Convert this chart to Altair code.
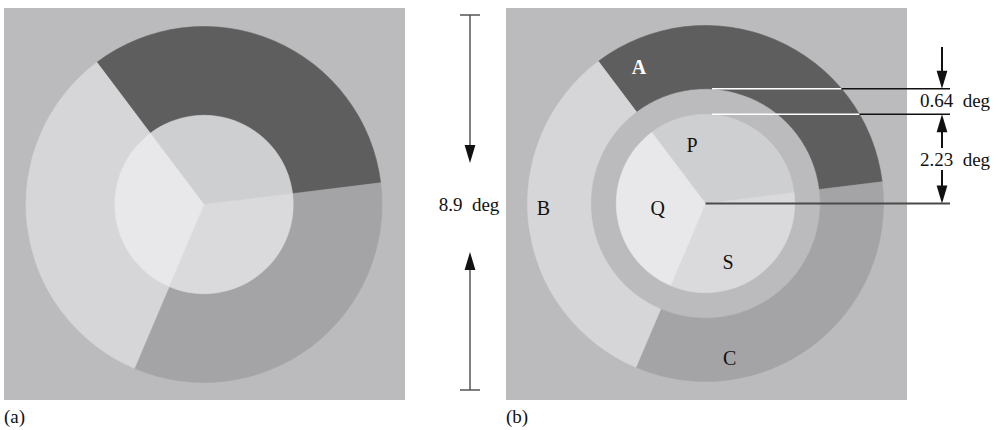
import math
import altair as alt
import pandas as pd

# --- stimulus values -------------------------------------------------------
OUTER_DIAMETER_DEG = 8.9      # full width of the annulus
GAP_WIDTH_DEG = 0.64          # width of the blank ring in (b)
INNER_RADIUS_DEG = 2.23       # radius of the central disc

RING_LABELS = ["A", "C", "B"]
DISC_LABELS = ["P", "S", "Q"]
SECTOR_START_DEG = [323, 83, 203]   # clockwise from 12 o'clock
SECTOR_END_DEG = [443, 203, 323]

DIM_TEXT = ["8.9\u2002deg", "0.64\u2002deg", "2.23\u2002deg"]
PANEL_TEXT = ["(a)", "(b)"]

# --- styling -----------------------------------------------------------------
RING_COLORS = ["#5e5e5e", "#a4a4a6", "#d6d6d8"]
DISC_COLORS = ["#cecfd1", "#dadadc", "#e8e8ea"]
BACKGROUND = "#bbbbbd"
FONT = "Liberation Serif"

W, H = 1005, 430
PX_PER_DEG = 40.0
CENTERS = {"a": (204.0, 204.5), "b": (705.5, 203.5)}
SQUARES = {"a": (4, 405, 8, 400), "b": (506, 907, 8, 400)}

XS = alt.Scale(domain=[0, W], range=[0, W], nice=False, zero=False)
YS = alt.Scale(domain=[0, H], range=[0, H], nice=False, zero=False)
RMAX = OUTER_DIAMETER_DEG / 2
RS = alt.Scale(type="linear", domain=[0, RMAX], range=[0, RMAX * PX_PER_DEG], zero=True)


def X(field):
    return alt.X(field, type="quantitative", scale=XS, axis=None)


def Y(field):
    return alt.Y(field, type="quantitative", scale=YS, axis=None)


# --- sectors -----------------------------------------------------------------
gap_outer = INNER_RADIUS_DEG + GAP_WIDTH_DEG
rows = []
for panel, ring_inner in (("a", INNER_RADIUS_DEG), ("b", gap_outer)):
    cx, cy = CENTERS[panel]
    for lab, s, e, col in zip(RING_LABELS, SECTOR_START_DEG, SECTOR_END_DEG, RING_COLORS):
        rows.append(dict(cx=cx, cy=cy, t0=math.radians(s), t1=math.radians(e),
                         r0=ring_inner, r1=RMAX, color=col, name=lab))
    for lab, s, e, col in zip(DISC_LABELS, SECTOR_START_DEG, SECTOR_END_DEG, DISC_COLORS):
        rows.append(dict(cx=cx, cy=cy, t0=math.radians(s), t1=math.radians(e),
                         r0=0.0, r1=INNER_RADIUS_DEG, color=col, name=lab))
sectors = pd.DataFrame(rows)

squares = pd.DataFrame([dict(x0=v[0], x1=v[1], y0=v[2], y1=v[3]) for v in SQUARES.values()])

bg = alt.Chart(squares).mark_rect(color=BACKGROUND).encode(
    x=X("x0"), x2="x1", y=Y("y0"), y2="y1")

arcs = alt.Chart(sectors).mark_arc(strokeWidth=0.6).encode(
    x=X("cx"), y=Y("cy"),
    theta=alt.Theta("t0:Q", scale=None), theta2="t1:Q",
    radius=alt.Radius("r1:Q", scale=RS), radius2="r0:Q",
    color=alt.Color("color:N", scale=None),
    stroke=alt.Stroke("color:N", scale=None),
)

# --- sector letters in (b), placed in polar coordinates ----------------------
cxb, cyb = CENTERS["b"]
letter_place = {  # angle (deg, clockwise from north), distance (deg)
    "A": (332.8, 3.64), "B": (265.9, 4.06), "C": (171.5, 4.08),
    "P": (345.3, 1.33), "Q": (256.5, 1.23), "S": (161.0, 1.73),
}
letters = pd.DataFrame([
    dict(cx=cxb, cy=cyb, th=math.radians(a), r=d, text=k,
         color="#ffffff" if k == "A" else "#111111",
         weight="bold" if k == "A" else "normal")
    for k, (a, d) in letter_place.items()
])


def letter_layer(weight):
    return alt.Chart(letters[letters.weight == weight]).mark_text(
        font=FONT, fontSize=20, fontWeight=weight, baseline="alphabetic", align="center"
    ).encode(
        x=X("cx"), y=Y("cy"),
        theta=alt.Theta("th:Q", scale=None),
        radius=alt.Radius("r:Q", scale=RS),
        text="text:N",
        color=alt.Color("color:N", scale=None),
    )


# --- dimension lines ---------------------------------------------------------
def edge_x(r_deg):
    return cxb + math.sqrt(RMAX ** 2 - r_deg ** 2) * PX_PER_DEG


y_gap_outer = cyb - gap_outer * PX_PER_DEG
y_disc = cyb - INNER_RADIUS_DEG * PX_PER_DEG
RIGHT_END = 950
ARROW_X = 942

h_lines = pd.DataFrame([
    dict(x0=712, x1=edge_x(gap_outer), y=y_gap_outer, c="#ffffff", w=1.5),
    dict(x0=edge_x(gap_outer), x1=RIGHT_END, y=y_gap_outer, c="#111111", w=1.5),
    dict(x0=712, x1=edge_x(INNER_RADIUS_DEG), y=y_disc, c="#ffffff", w=1.5),
    dict(x0=edge_x(INNER_RADIUS_DEG), x1=RIGHT_END, y=y_disc, c="#111111", w=1.5),
    dict(x0=cxb, x1=RIGHT_END, y=cyb, c="#4a4a4a", w=2),
    dict(x0=460, x1=480, y=15, c="#555555", w=1.5),
    dict(x0=460, x1=480, y=390, c="#555555", w=1.5),
])
hl = alt.Chart(h_lines).mark_rule().encode(
    x=X("x0"), x2="x1", y=Y("y"),
    color=alt.Color("c:N", scale=None),
    strokeWidth=alt.StrokeWidth("w:Q", scale=None),
)

v_lines = pd.DataFrame([
    dict(x=470, y0=15, y1=146, c="#555555", w=1.5),
    dict(x=470, y0=270, y1=390, c="#555555", w=1.5),
    dict(x=ARROW_X, y0=47, y1=y_gap_outer - 17, c="#111111", w=2),
    dict(x=ARROW_X, y0=y_disc + 17, y1=148, c="#111111", w=2),
    dict(x=ARROW_X, y0=170, y1=cyb - 17, c="#111111", w=2),
])
vl = alt.Chart(v_lines).mark_rule().encode(
    x=X("x"), y=Y("y0"), y2="y1",
    color=alt.Color("c:N", scale=None),
    strokeWidth=alt.StrokeWidth("w:Q", scale=None),
)

DOWN = "M-0.6,-1L0.6,-1L0,1Z"
UP = "M-0.6,1L0.6,1L0,-1Z"
heads = pd.DataFrame([
    dict(x=470, y=163 - 9, d="down"),
    dict(x=470, y=252 + 9, d="up"),
    dict(x=ARROW_X, y=y_gap_outer - 9, d="down"),
    dict(x=ARROW_X, y=y_disc + 9, d="up"),
    dict(x=ARROW_X, y=cyb - 9, d="down"),
])
head_layers = [
    alt.Chart(heads[heads.d == d]).mark_point(
        shape=path, filled=True, size=324, color="#111111", opacity=1, strokeWidth=0
    ).encode(x=X("x"), y=Y("y"))
    for d, path in (("down", DOWN), ("up", UP))
]

# --- text ------------------------------------------------------------------
texts = pd.DataFrame([
    dict(x=469, y=211, t=DIM_TEXT[0], a="center"),
    dict(x=955, y=107, t=DIM_TEXT[1], a="center"),
    dict(x=955, y=166, t=DIM_TEXT[2], a="center"),
    dict(x=4, y=423, t=PANEL_TEXT[0], a="left"),
    dict(x=506, y=423, t=PANEL_TEXT[1], a="left"),
])
text_layers = [
    alt.Chart(texts[texts.a == a]).mark_text(
        font=FONT, fontSize=19, baseline="alphabetic", align=a, color="#111111"
    ).encode(x=X("x"), y=Y("y"), text="t:N")
    for a in ("center", "left")
]

chart = alt.layer(
    bg, arcs, hl, vl, *head_layers, letter_layer("bold"), letter_layer("normal"), *text_layers
).properties(
    width=W, height=H, padding=0, autosize=alt.AutoSizeParams(type="none"),
    background="#ffffff",
).configure_view(stroke=None)

chart.save("out.html", embed_options={"renderer": "svg", "actions": False})
